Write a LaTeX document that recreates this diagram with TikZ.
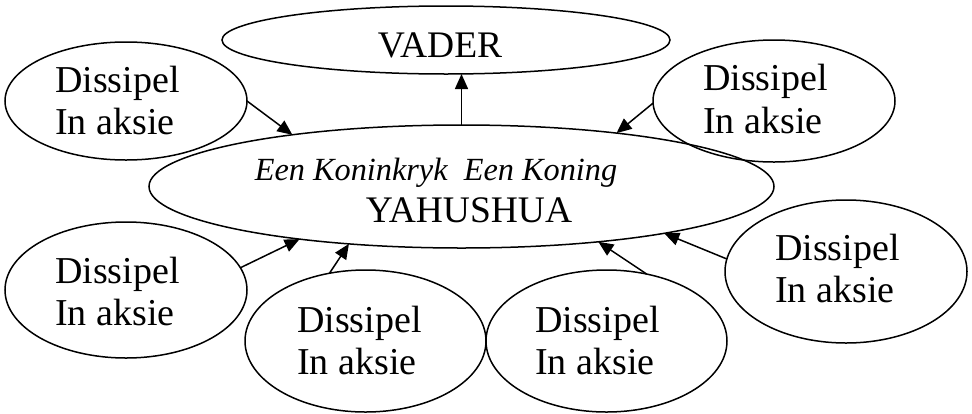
\documentclass[tikz,border=0pt]{standalone}
\usepackage{fontspec}
\setmainfont{Liberation Serif}
\usetikzlibrary{arrows.meta,shapes.geometric}
\begin{document}
\begin{tikzpicture}[x=1pt,y=-1pt,
  oval/.style={draw, ellipse, line width=1.5pt, inner sep=0pt, outer sep=0pt},
  diss/.style={oval, minimum width=242pt},
  dtext/.style={anchor=west, inner sep=0pt, align=left, font=\fontsize{38}{42.5}\selectfont},
  bigtext/.style={inner sep=0pt, anchor=base, font=\fontsize{37.5}{42}\selectfont},
  arr/.style={line width=1.5pt, -{Triangle[length=15pt,width=13pt]}}]
\useasboundingbox (0,0) rectangle (972,413);
% ellipses
\node[oval, minimum width=448pt, minimum height=68pt] (vader) at (446,40) {};
\node[oval, minimum width=625pt, minimum height=123pt] (main) at (461.5,186.5) {};
\node[diss, minimum height=118pt] (d1) at (126,101) {};
\node[diss, minimum height=122pt] (d2) at (774,101) {};
\node[diss, minimum height=136pt] (d3) at (126,290) {};
\node[diss, minimum width=241pt, minimum height=142pt] (d4) at (365.5,341) {};
\node[diss, minimum width=241pt, minimum height=142pt] (d5) at (606.5,341) {};
\node[diss, minimum height=143pt] (d6) at (846,271.5) {};
% texts
\node[bigtext] (vadert) at (440,57) {VADER};
\node[inner sep=0pt, anchor=base, font=\fontsize{32.3}{36}\selectfont\itshape] (kt) at (436,180) {Een Koninkryk\ \ Een Koning};
\node[bigtext] (yt) at (469,222) {YAHUSHUA};
\node[dtext] (d1t) at (55,100.5) {Dissipel\\In aksie};
\node[dtext] (d2t) at (703,99.2) {Dissipel\\In aksie};
\node[dtext] (d3t) at (55,291.5) {Dissipel\\In aksie};
\node[dtext] (d4t) at (297,340.5) {Dissipel\\In aksie};
\node[dtext] (d5t) at (535,340.5) {Dissipel\\In aksie};
\node[dtext] (d6t) at (775,268.5) {Dissipel\\In aksie};
% connectors
\draw[arr] (main.north) -- (main.north |- vader.south);
\draw[arr] (d1.east) -- (main.163.7);
\draw[arr] (d2.181) -- (main.19.4);
\draw[arr] (d3.11.4) -- (main.198.2);
\draw[arr] (d4.118.9) -- (main.207.4);
\draw[arr] (d5.59.2) -- (main.338.9);
\draw[arr] (d6.174.5) -- (main.347.6);
\end{tikzpicture}
\end{document}
